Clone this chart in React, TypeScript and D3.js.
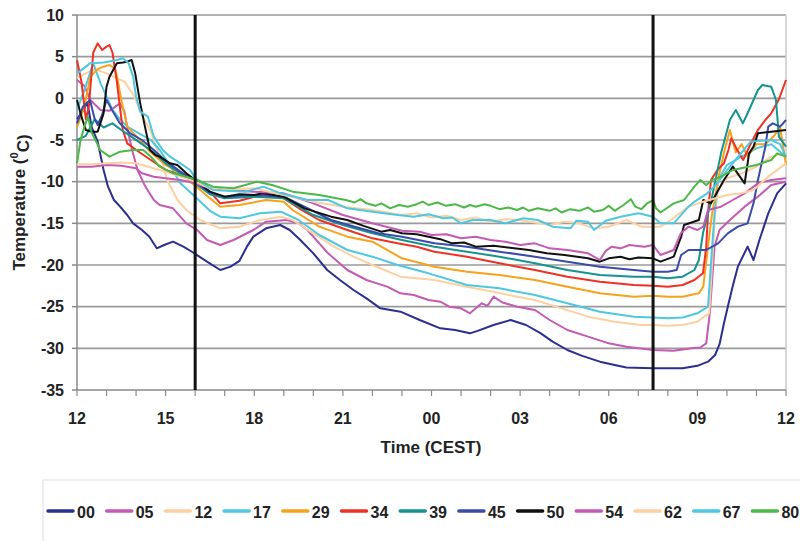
import React from "react";
import * as d3 from "d3";

// hours after 12:00 CEST, labels every 3 h
const hourTicks = d3.range(0, 25);
const timeLabels = ["12", "15", "18", "21", "00", "03", "06", "09", "12"];
const tempTicks = [10, 5, 0, -5, -10, -15, -20, -25, -30, -35];
const markerHours = [4, 19.5];

const sensors = ["00", "05", "12", "17", "29", "34", "39", "45", "50", "54", "62", "67", "80"];
const colors = [
  "#2b2f8f", "#c45ab3", "#fdd0a2", "#4dc8e0", "#f7a21b", "#ee3124", "#15938f",
  "#3b4ba8", "#111111", "#c45ab3", "#fdd0a2", "#4dc8e0", "#4bb848",
];

// [hour, temperature]
const s00 = [[0,-2.5],[0.2,-1.5],[0.35,-0.5],[0.5,-3.5],[0.7,-5.2],[0.9,-8.6],[1.05,-10.6],[1.25,-12.2],[1.46,-13],[1.7,-14],[1.9,-15],[2.2,-15.8],[2.45,-16.6],[2.7,-18],[2.95,-17.6],[3.25,-17.2],[3.6,-17.8],[3.93,-18.5],[4.4,-19.6],[4.85,-20.6],[5.2,-20.2],[5.5,-19.5],[5.75,-17.8],[5.97,-16.6],[6.4,-15.6],[6.88,-15.2],[7.2,-15.8],[7.56,-17],[8,-18.6],[8.47,-20.6],[8.9,-21.8],[9.36,-23],[9.8,-24],[10.27,-25.2],[10.95,-25.6],[11.6,-26.6],[12.3,-27.6],[12.8,-27.8],[13.3,-28.2],[13.56,-27.9],[14.1,-27.2],[14.68,-26.6],[15.2,-27.2],[15.7,-28.2],[16.1,-29.2],[16.6,-30.2],[17.1,-30.9],[17.7,-31.6],[18.2,-32],[18.6,-32.3],[19.5,-32.4],[20.5,-32.4],[21,-32.1],[21.36,-31.6],[21.6,-30.8],[21.75,-29.5],[21.9,-27],[22.03,-25],[22.2,-22.5],[22.37,-20.2],[22.7,-17.8],[22.9,-19.4],[23.1,-17],[23.4,-13.8],[23.7,-11.4],[24,-10.2]];
const s05 = [[0,2.2],[0.25,1.5],[0.45,-0.2],[0.8,-1.4],[1.1,-1.5],[1.45,-0.6],[1.6,-1.5],[1.7,-3.5],[1.85,-6],[2.05,-8.6],[2.3,-10.5],[2.6,-12.2],[2.8,-12.8],[3.25,-13.2],[3.7,-15],[4.07,-15.8],[4.4,-17],[4.85,-17.6],[5.3,-17],[5.97,-15.8],[6.4,-14.8],[7.1,-14.6],[7.5,-15],[7.8,-15.8],[8.5,-18.6],[9.15,-20.6],[9.8,-21.8],[10.5,-22.6],[10.95,-23.4],[11.4,-23.6],[11.9,-24.2],[12.3,-24.4],[12.6,-25],[13,-25.2],[13.3,-25.8],[13.5,-25.2],[13.7,-24.6],[13.9,-24.9],[14.1,-23.8],[14.4,-24.5],[14.9,-25],[15.5,-25.4],[16,-26.6],[16.6,-27.8],[17.3,-28.6],[18,-29.4],[18.6,-29.8],[19.5,-30.2],[20.2,-30.3],[20.8,-30],[21.1,-29.9],[21.3,-29.4],[21.42,-25.8],[21.58,-17.8],[21.75,-15.8],[22.1,-14.6],[22.6,-13],[23.05,-11.8],[23.5,-10.4],[24,-10]];
const s12 = [[0,2.5],[0.3,3],[0.6,3.5],[1,3],[1.3,2.5],[1.6,2],[1.9,0.5],[2.2,-2],[2.5,-4],[2.7,-6],[2.9,-7.8],[3.05,-9.8],[3.4,-12.2],[3.7,-13.4],[4.17,-14.6],[4.85,-15.6],[5.5,-15.4],[6.2,-14.6],[6.9,-14.2],[7.3,-14.6],[8,-16.2],[8.7,-17.8],[9.36,-19],[10,-20],[10.95,-21.4],[12.1,-21.8],[13.2,-22.6],[14.1,-23.2],[14.9,-23.8],[15.5,-24.2],[16.4,-25.2],[17.3,-26.2],[18.2,-26.8],[19.1,-27.2],[19.5,-27.2],[20,-27.3],[20.5,-27.2],[21,-26.8],[21.4,-25.8],[21.5,-19.8],[21.6,-13.8],[21.7,-11],[22,-9.6],[22.5,-9],[23,-8.2],[23.5,-7],[24,-6.5]];
const s17 = [[0,-1.4],[0.3,1.5],[0.55,4.2],[0.8,1.8],[1,0.2],[1.2,-1.4],[1.45,-2.5],[1.7,-3.4],[2.1,-4.2],[2.5,-5],[2.8,-6.2],[3.1,-7.8],[3.5,-10.2],[4,-11.8],[4.5,-13.5],[4.85,-14.2],[5.5,-14.4],[6.2,-13.8],[6.9,-13.6],[7.5,-14.6],[8.2,-16.4],[9.15,-18.2],[10,-19],[10.85,-20],[11.9,-21],[13.2,-22.4],[14.3,-22.8],[15.5,-23.6],[16.6,-24.6],[17.7,-25.6],[18.85,-26.2],[19.5,-26.3],[20,-26.4],[20.5,-26.3],[21,-25.8],[21.36,-25],[21.5,-17.8],[21.6,-13],[21.7,-9.8],[22,-8],[22.5,-7],[23,-6],[23.5,-5.5],[24,-7]];
const s29 = [[0,-3.5],[0.25,-1],[0.45,2.6],[0.7,3.5],[0.9,3.8],[1.1,4],[1.3,3.5],[1.4,1.8],[1.5,-0.2],[1.7,-3.4],[2,-4.5],[2.5,-6.5],[3,-8],[3.5,-9],[4,-10.5],[4.5,-12],[4.85,-13],[5.5,-12.8],[6.4,-12.2],[7,-12.4],[7.3,-13.4],[8.2,-15.4],[9.15,-16.6],[10,-17.2],[11,-19.2],[12.1,-20.2],[13.2,-20.8],[14.3,-21.2],[15.5,-21.8],[16.6,-22.6],[17.7,-23.4],[18.85,-23.8],[19.5,-23.7],[20,-23.8],[20.5,-23.8],[21.05,-23.4],[21.2,-22.6],[21.36,-17.8],[21.5,-13.8],[21.7,-9.8],[21.9,-6.5],[22.1,-3.8],[22.3,-6.5],[22.5,-5.5],[22.7,-7],[23,-5.5],[23.3,-5.5],[23.6,-4.5],[23.8,-3.5],[24,-8]];
const s34 = [[0,4.6],[0.15,2],[0.3,-2.5],[0.4,-1],[0.55,5.5],[0.7,6.6],[0.85,5.8],[1,6.2],[1.1,6.4],[1.2,5.5],[1.35,2],[1.45,-1],[1.55,-3.8],[1.7,-5.4],[2,-6.2],[2.5,-7.4],[3,-8.6],[3.5,-9.2],[4,-10],[4.5,-11.2],[4.85,-12.6],[5.5,-12.3],[6,-11.8],[6.4,-11.6],[7,-12],[7.6,-13.4],[8.2,-14.6],[9.15,-15.8],[10,-16.8],[10.85,-17.4],[11.5,-17.8],[12.1,-18.4],[13.2,-19],[14.3,-19.8],[15.5,-20.6],[16.6,-21.4],[17.7,-22],[18.85,-22.4],[19.5,-22.5],[20,-22.6],[20.5,-22.4],[20.9,-21.8],[21.19,-21],[21.3,-17.8],[21.36,-13.8],[21.46,-9.8],[21.7,-8.5],[21.9,-7.8],[22.05,-6.2],[22.15,-4.8],[22.35,-6.2],[22.55,-7.4],[22.8,-5.5],[23.05,-3.8],[23.3,-2.6],[23.5,-1.8],[23.75,-0.2],[24,2.2]];
const s39 = [[0,-5],[0.3,-4.5],[0.6,-2.5],[0.9,-3.5],[1.2,-3],[1.5,-3.8],[1.8,-4.5],[2.2,-5.5],[2.6,-6.5],[3,-7.8],[3.5,-9],[4,-10.2],[4.5,-11.5],[5,-12],[6,-11.8],[7,-12],[8,-14],[9,-15.2],[10,-16.2],[11,-17],[12.1,-17.8],[13.2,-18.4],[14.3,-19],[15.5,-19.8],[16.6,-20.6],[17.7,-21.2],[18.85,-21.4],[19.5,-21.4],[20,-21.6],[20.5,-21.4],[20.9,-20.6],[21.05,-19.4],[21.2,-16],[21.45,-12.6],[21.8,-6.6],[22.1,-2.6],[22.3,-1.4],[22.54,-3],[22.75,-1.4],[23.05,1],[23.2,1.6],[23.5,1.4],[23.66,-0.2],[23.76,-4.6],[24,-5.8]];
const s45 = [[0,-3],[0.2,-1],[0.44,-0.2],[0.6,-2.5],[0.7,-3.2],[0.85,-2],[1,-0.2],[1.2,-1.5],[1.45,-3],[1.8,-4.2],[2.2,-5],[2.6,-6.2],[3,-7.5],[3.5,-8.8],[4,-10],[4.5,-11.3],[5,-11.8],[6,-11.6],[7,-11.8],[7.7,-13],[8.6,-14.6],[9.4,-15.4],[10.2,-16.2],[11,-16.6],[12.1,-17.4],[13.2,-17.8],[14.3,-18.4],[15.5,-19],[16.6,-19.6],[17.7,-20.2],[18.85,-20.6],[19.5,-20.8],[20,-20.8],[20.3,-20.6],[20.45,-18.8],[20.7,-18.2],[21.3,-18.2],[21.7,-17.4],[22.03,-16.2],[22.37,-15.4],[22.7,-15],[22.9,-12.6],[23.05,-9.8],[23.3,-5.8],[23.4,-3.4],[23.55,-3],[23.8,-3.4],[24,-2.6]];
const s50 = [[0,-0.2],[0.15,-2.2],[0.3,-3.8],[0.5,-4],[0.7,-4],[0.9,-1.8],[1,1.4],[1.1,2.6],[1.35,4.2],[1.55,4.3],[1.7,4.4],[1.85,4.6],[1.97,3],[2.14,-0.6],[2.3,-3.4],[2.47,-6.2],[2.65,-6.8],[2.8,-7],[3.15,-7.8],[3.4,-8],[3.7,-9],[4,-9.8],[4.5,-11.2],[5,-11.8],[5.5,-11.5],[6,-11.6],[6.3,-11.4],[7,-11.8],[7.7,-13.2],[8.6,-14.2],[9.15,-14.6],[9.7,-15.3],[10.3,-16],[10.6,-15.8],[11,-16.2],[11.5,-16.3],[11.9,-16.6],[12.3,-16.9],[12.7,-17.4],[13.1,-17.3],[13.5,-17.8],[14.1,-17.7],[14.8,-18],[15.3,-18.2],[15.9,-18.6],[16.5,-18.8],[17.3,-19.2],[17.7,-19.6],[18,-19.2],[18.4,-19],[18.7,-19.3],[19,-19.1],[19.5,-19.2],[19.75,-19.6],[20.2,-19],[20.45,-16.6],[20.55,-15.2],[21.05,-14.6],[21.2,-12.2],[21.46,-12.6],[21.9,-9.8],[22.2,-8.2],[22.6,-10.2],[22.75,-6.6],[22.9,-5.8],[23.05,-4.2],[23.5,-4],[24,-3.8]];
const s54 = [[0,-8.2],[0.5,-8.2],[1,-8],[1.5,-8.1],[2,-8.4],[2.2,-9],[2.6,-9.4],[3,-9.6],[3.5,-9.8],[4,-10.2],[4.5,-10.8],[5,-11],[6,-11.2],[7,-11.4],[8,-12.6],[9,-14],[10,-15],[11,-15.9],[11.6,-16],[12,-16.4],[12.5,-16.3],[13,-16.8],[13.5,-16.6],[14,-17],[14.5,-17.2],[15,-17.6],[15.5,-17.4],[16,-18],[16.6,-18.2],[17.3,-18.6],[17.7,-19.4],[17.9,-18.3],[18.1,-17.8],[18.4,-18],[18.7,-17.6],[19.2,-17.8],[19.5,-17.6],[19.75,-18.8],[20.2,-18.2],[20.44,-16.2],[20.7,-15.4],[21,-15.8],[21.2,-15.4],[21.36,-13.4],[21.8,-13],[22.2,-12.2],[22.6,-11.4],[23.05,-10.2],[23.5,-9.8],[24,-9.6]];
const s62 = [[0,-7.9],[0.5,-7.9],[1,-7.8],[1.5,-7.7],[2,-7.8],[2.5,-8.3],[3,-8.8],[3.5,-9.4],[4,-10],[4.5,-10.8],[5,-11],[6,-10.8],[7,-11.6],[8,-12.4],[9,-13],[10,-13.4],[11,-14],[11.5,-13.8],[12,-14.3],[12.5,-14.1],[13,-14.6],[13.5,-14.3],[14,-14.8],[14.5,-14.5],[15,-14.6],[15.5,-14.9],[16,-15.2],[16.5,-14.8],[17,-15],[17.5,-15.6],[18,-15.4],[18.6,-14.6],[19.1,-15.4],[19.75,-15.4],[20.1,-14.6],[20.7,-13],[21.2,-12.4],[22,-11.6],[22.5,-11.4],[22.9,-11],[23.4,-9.4],[24,-7.8]];
const s67 = [[0,3],[0.44,4.2],[0.9,4.3],[1.35,4.6],[1.55,4.8],[1.75,4.2],[1.9,2.6],[2,0.2],[2.14,-1.6],[2.4,-2.2],[2.6,-4.6],[2.9,-6.2],[3.15,-7],[3.5,-7.8],[3.83,-8.6],[4,-9.6],[4.6,-11],[5.7,-11.2],[6.3,-10.6],[6.9,-11.4],[7.8,-12.2],[8.5,-12.2],[9.15,-13.2],[10,-13.6],[10.85,-14],[11.4,-14.2],[11.9,-13.9],[12.4,-14.4],[12.7,-14.3],[13,-15],[13.4,-14.6],[14,-14.6],[14.5,-15],[15.1,-14.4],[15.6,-14.6],[16.1,-15.4],[16.7,-15.6],[16.9,-14.7],[17.3,-14.8],[17.5,-15.8],[17.9,-14.7],[18.4,-14.2],[19,-13.8],[19.5,-14.2],[19.75,-15],[20.2,-15],[20.7,-13],[20.9,-12.4],[21.3,-11.5],[21.6,-10.5],[22.1,-8.2],[22.5,-6.5],[22.8,-5.2],[23.5,-5],[23.8,-5.5],[24,-7]];
const s80 = [[0,-7.8],[0.12,-5],[0.25,-3.4],[0.37,-2.2],[0.5,-4.2],[0.68,-5.4],[0.78,-6.2],[1.1,-7],[1.46,-6.4],[1.9,-6.2],[2.24,-6.2],[2.5,-7],[2.8,-8.2],[3.25,-9],[3.7,-9.4],[4.07,-9.8],[4.6,-10.6],[5.3,-10.8],[6.1,-10],[6.6,-10.4],[7.3,-11.2],[8.2,-11.6],[9.1,-12.2],[9.4,-12.5],[9.6,-12.1],[9.8,-12.6],[10.1,-12.9],[10.3,-12.6],[10.6,-13.2],[10.9,-12.8],[11.2,-13],[11.5,-12.7],[11.7,-12.4],[11.9,-12.8],[12.2,-12.5],[12.5,-12.9],[12.8,-12.7],[13.1,-13.1],[13.3,-12.8],[13.5,-13],[13.8,-12.7],[14,-12.9],[14.3,-13.3],[14.6,-13.1],[14.9,-13.4],[15.1,-13.1],[15.3,-13.5],[15.6,-13.2],[16,-13.5],[16.2,-13.2],[16.4,-13.7],[16.7,-13.3],[17,-13.5],[17.3,-13.1],[17.5,-13.6],[17.8,-13.4],[18,-12.9],[18.2,-13.5],[18.5,-12.8],[18.75,-12.1],[18.9,-13],[19.1,-13.3],[19.3,-12.6],[19.5,-12.2],[19.6,-13.2],[19.75,-13.7],[20.2,-12.6],[20.55,-12.2],[20.9,-10.6],[21.1,-9.8],[21.3,-10.4],[21.5,-9.8],[21.8,-9.4],[22.2,-8.6],[23,-8],[23.5,-7.4],[23.7,-6.6],[24,-7]];

const seriesValues = [s00, s05, s12, s17, s29, s34, s39, s45, s50, s54, s62, s67, s80];

const W = 800;
const H = 541;
const FONT = "'Liberation Sans', Arial, sans-serif";

export default function App() {
  const x = d3.scaleLinear().domain([0, 24]).range([77, 786]);
  const y = d3.scaleLinear().domain([-35, 10]).range([390, 15]);
  const line = d3
    .line<number[]>()
    .x((d) => x(d[0]))
    .y((d) => y(d[1]));

  const legendX = (i: number) => 48 + i * 58.7;

  return (
    <>
      <style>{"body{margin:0}"}</style>
      <svg width={W} height={H} style={{ display: "block", background: "#fff" }}>
        {/* grid */}
        {tempTicks
          .filter((t) => t > -35)
          .map((t) => (
            <line key={t} x1={x(0)} x2={x(24)} y1={y(t)} y2={y(t)} stroke="#9a9a9a" strokeWidth={1.6} />
          ))}
        <line x1={x(24)} x2={x(24)} y1={y(10)} y2={y(-35)} stroke="#c8c8c8" strokeWidth={1.5} />

        {/* axes */}
        <line x1={x(0)} x2={x(0)} y1={y(10)} y2={y(-35)} stroke="#8a8a8a" strokeWidth={1.5} />
        <line x1={x(0)} x2={x(24)} y1={y(-35)} y2={y(-35)} stroke="#8a8a8a" strokeWidth={1.5} />
        {tempTicks.map((t) => (
          <g key={t}>
            <line x1={x(0) - 5} x2={x(0)} y1={y(t)} y2={y(t)} stroke="#8a8a8a" strokeWidth={1.5} />
            <text x={64} y={y(t)} dy="0.35em" textAnchor="end" fontFamily={FONT} fontWeight="bold" fontSize={16} fill="#222">
              {t}
            </text>
          </g>
        ))}
        {hourTicks.map((h) => (
          <line key={h} x1={x(h)} x2={x(h)} y1={y(-35)} y2={y(-35) + 6} stroke="#8a8a8a" strokeWidth={1.2} />
        ))}
        {timeLabels.map((lab, i) => (
          <text key={i} x={x(i * 3)} y={418} dy="0.35em" textAnchor="middle" fontFamily={FONT} fontWeight="bold" fontSize={16} fill="#222">
            {lab}
          </text>
        ))}
        <text x={431} y={447} dy="0.35em" textAnchor="middle" fontFamily={FONT} fontWeight="bold" fontSize={17} fill="#222">
          Time (CEST)
        </text>
        <text
          transform={`translate(19,${y(-12.5)}) rotate(-90)`}
          textAnchor="middle"
          dy="0.35em"
          fontFamily={FONT}
          fontWeight="bold"
          fontSize={17}
          fill="#222"
        >
          Temperature (<tspan fontSize={11} dy="-0.6em">0</tspan>
          <tspan dy="0.6em">C)</tspan>
        </text>

        {/* series */}
        {seriesValues.map((s, i) => (
          <path key={sensors[i]} d={line(s) || ""} fill="none" stroke={colors[i]} strokeWidth={2} strokeLinejoin="round" />
        ))}

        {/* sunset / sunrise markers */}
        {markerHours.map((h) => (
          <line key={h} x1={x(h)} x2={x(h)} y1={y(10)} y2={y(-35)} stroke="#111" strokeWidth={3} />
        ))}

        {/* legend */}
        <rect x={43} y={480} width={800} height={100} fill="none" stroke="#dedede" strokeWidth={1} />
        {sensors.map((s, i) => (
          <g key={s}>
            <line x1={legendX(i)} x2={legendX(i) + 25} y1={511} y2={511} stroke={colors[i]} strokeWidth={3.5} strokeLinecap="round" />
            <text x={legendX(i) + 29} y={512} dy="0.35em" fontFamily={FONT} fontWeight="bold" fontSize={16} fill="#222">
              {s}
            </text>
          </g>
        ))}
      </svg>
    </>
  );
}
